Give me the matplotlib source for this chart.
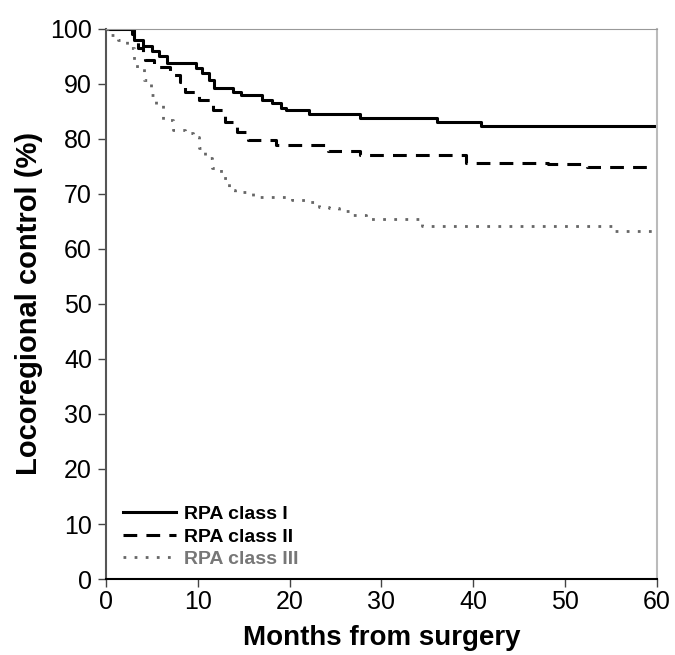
import matplotlib
matplotlib.use('Agg')
import matplotlib.pyplot as plt

plt.rcParams['font.family'] = ['Liberation Sans', 'DejaVu Sans']

# Kaplan-Meier style curves (months, %)
t_class1 = [0, 2.8, 3.0, 4.0, 5.0, 5.8, 6.7, 9.8, 10.5, 11.2, 11.8, 13.8, 14.7, 17.0,
            18.1, 19.1, 19.6, 22.1, 27.7, 36.1, 40.8, 60]
v_class1 = [100, 99.0, 98.0, 96.8, 95.9, 95.0, 93.8, 92.9, 91.9, 90.7, 89.2, 88.6, 88.0, 87.1,
            86.5, 85.6, 85.2, 84.5, 83.8, 83.1, 82.4, 82.4]

t_class2 = [0, 3.0, 3.5, 4.0, 4.3, 5.2, 7.0, 8.1, 8.6, 10.1, 11.7, 13.0, 14.3, 15.5,
            18.5, 24.2, 27.7, 39.2, 48.2, 52.4, 60]
v_class2 = [100, 98.6, 96.5, 95.0, 94.4, 93.1, 91.6, 90.4, 88.6, 87.1, 85.3, 83.1, 81.3, 79.8,
            78.9, 77.8, 77.0, 75.7, 75.5, 74.9, 74.9]

t_class3 = [0, 0.4, 1.3, 2.3, 3.0, 3.4, 4.1, 4.9, 5.5, 6.2, 7.3, 8.6, 9.5, 10.1, 10.8,
            11.5, 12.5, 13.4, 14.1, 16.0, 20.3, 21.8, 23.2, 24.3, 25.4, 26.5, 28.3, 34.4, 55.4, 60]
v_class3 = [100, 98.9, 98.0, 96.5, 94.4, 92.9, 90.7, 88.0, 86.2, 83.5, 81.6, 81.0, 80.4, 78.3, 76.5,
            74.7, 72.9, 70.7, 70.4, 69.5, 68.9, 68.6, 67.7, 67.4, 66.8, 66.2, 65.4, 64.2, 63.3, 63.3]

labels = ['RPA class I', 'RPA class II', 'RPA class III']

fig = plt.figure(figsize=(6.75, 6.55), dpi=100)
ax = fig.add_axes([0.157, 0.116, 0.816, 0.84])

ax.step(t_class1, v_class1, where='post', color='black', lw=2.2, label=labels[0])
ax.step(t_class2, v_class2, where='post', color='black', lw=2.2, dashes=(4.5, 3), label=labels[1])
ax.step(t_class3, v_class3, where='post', color='#666666', lw=2.0, dashes=(1, 3), label=labels[2])

ax.set_xlim(0, 60)
ax.set_ylim(0, 100)
ax.set_xticks(range(0, 61, 10))
ax.set_yticks(range(0, 101, 10))
ax.tick_params(direction='out', length=6, width=1, labelsize=18, colors='#444444')
ax.tick_params(labelcolor='black')
ax.tick_params(axis='y', pad=4)
ax.tick_params(axis='x', pad=2)

ax.spines['top'].set_color('#999999')
ax.spines['right'].set_color('#bbbbbb')
ax.spines['right'].set_linewidth(1.5)
ax.spines['left'].set_color('#555555')
ax.spines['left'].set_linewidth(1.5)
ax.spines['bottom'].set_color('black')
ax.spines['bottom'].set_linewidth(1.5)

ax.set_xlabel('Months from surgery', fontsize=20, fontweight='bold', labelpad=8)
ax.set_ylabel('Locoregional control (%)', fontsize=21, fontweight='bold', labelpad=5)

leg = ax.legend(loc='lower left', bbox_to_anchor=(0.0, -0.012), frameon=False,
                prop={'weight': 'bold', 'size': 14}, handlelength=2.7,
                handletextpad=0.4, labelspacing=0.25, borderaxespad=0.5)
for txt, c in zip(leg.get_texts(), ['black', 'black', '#777777']):
    txt.set_color(c)

fig.savefig('out.png', dpi=100)
